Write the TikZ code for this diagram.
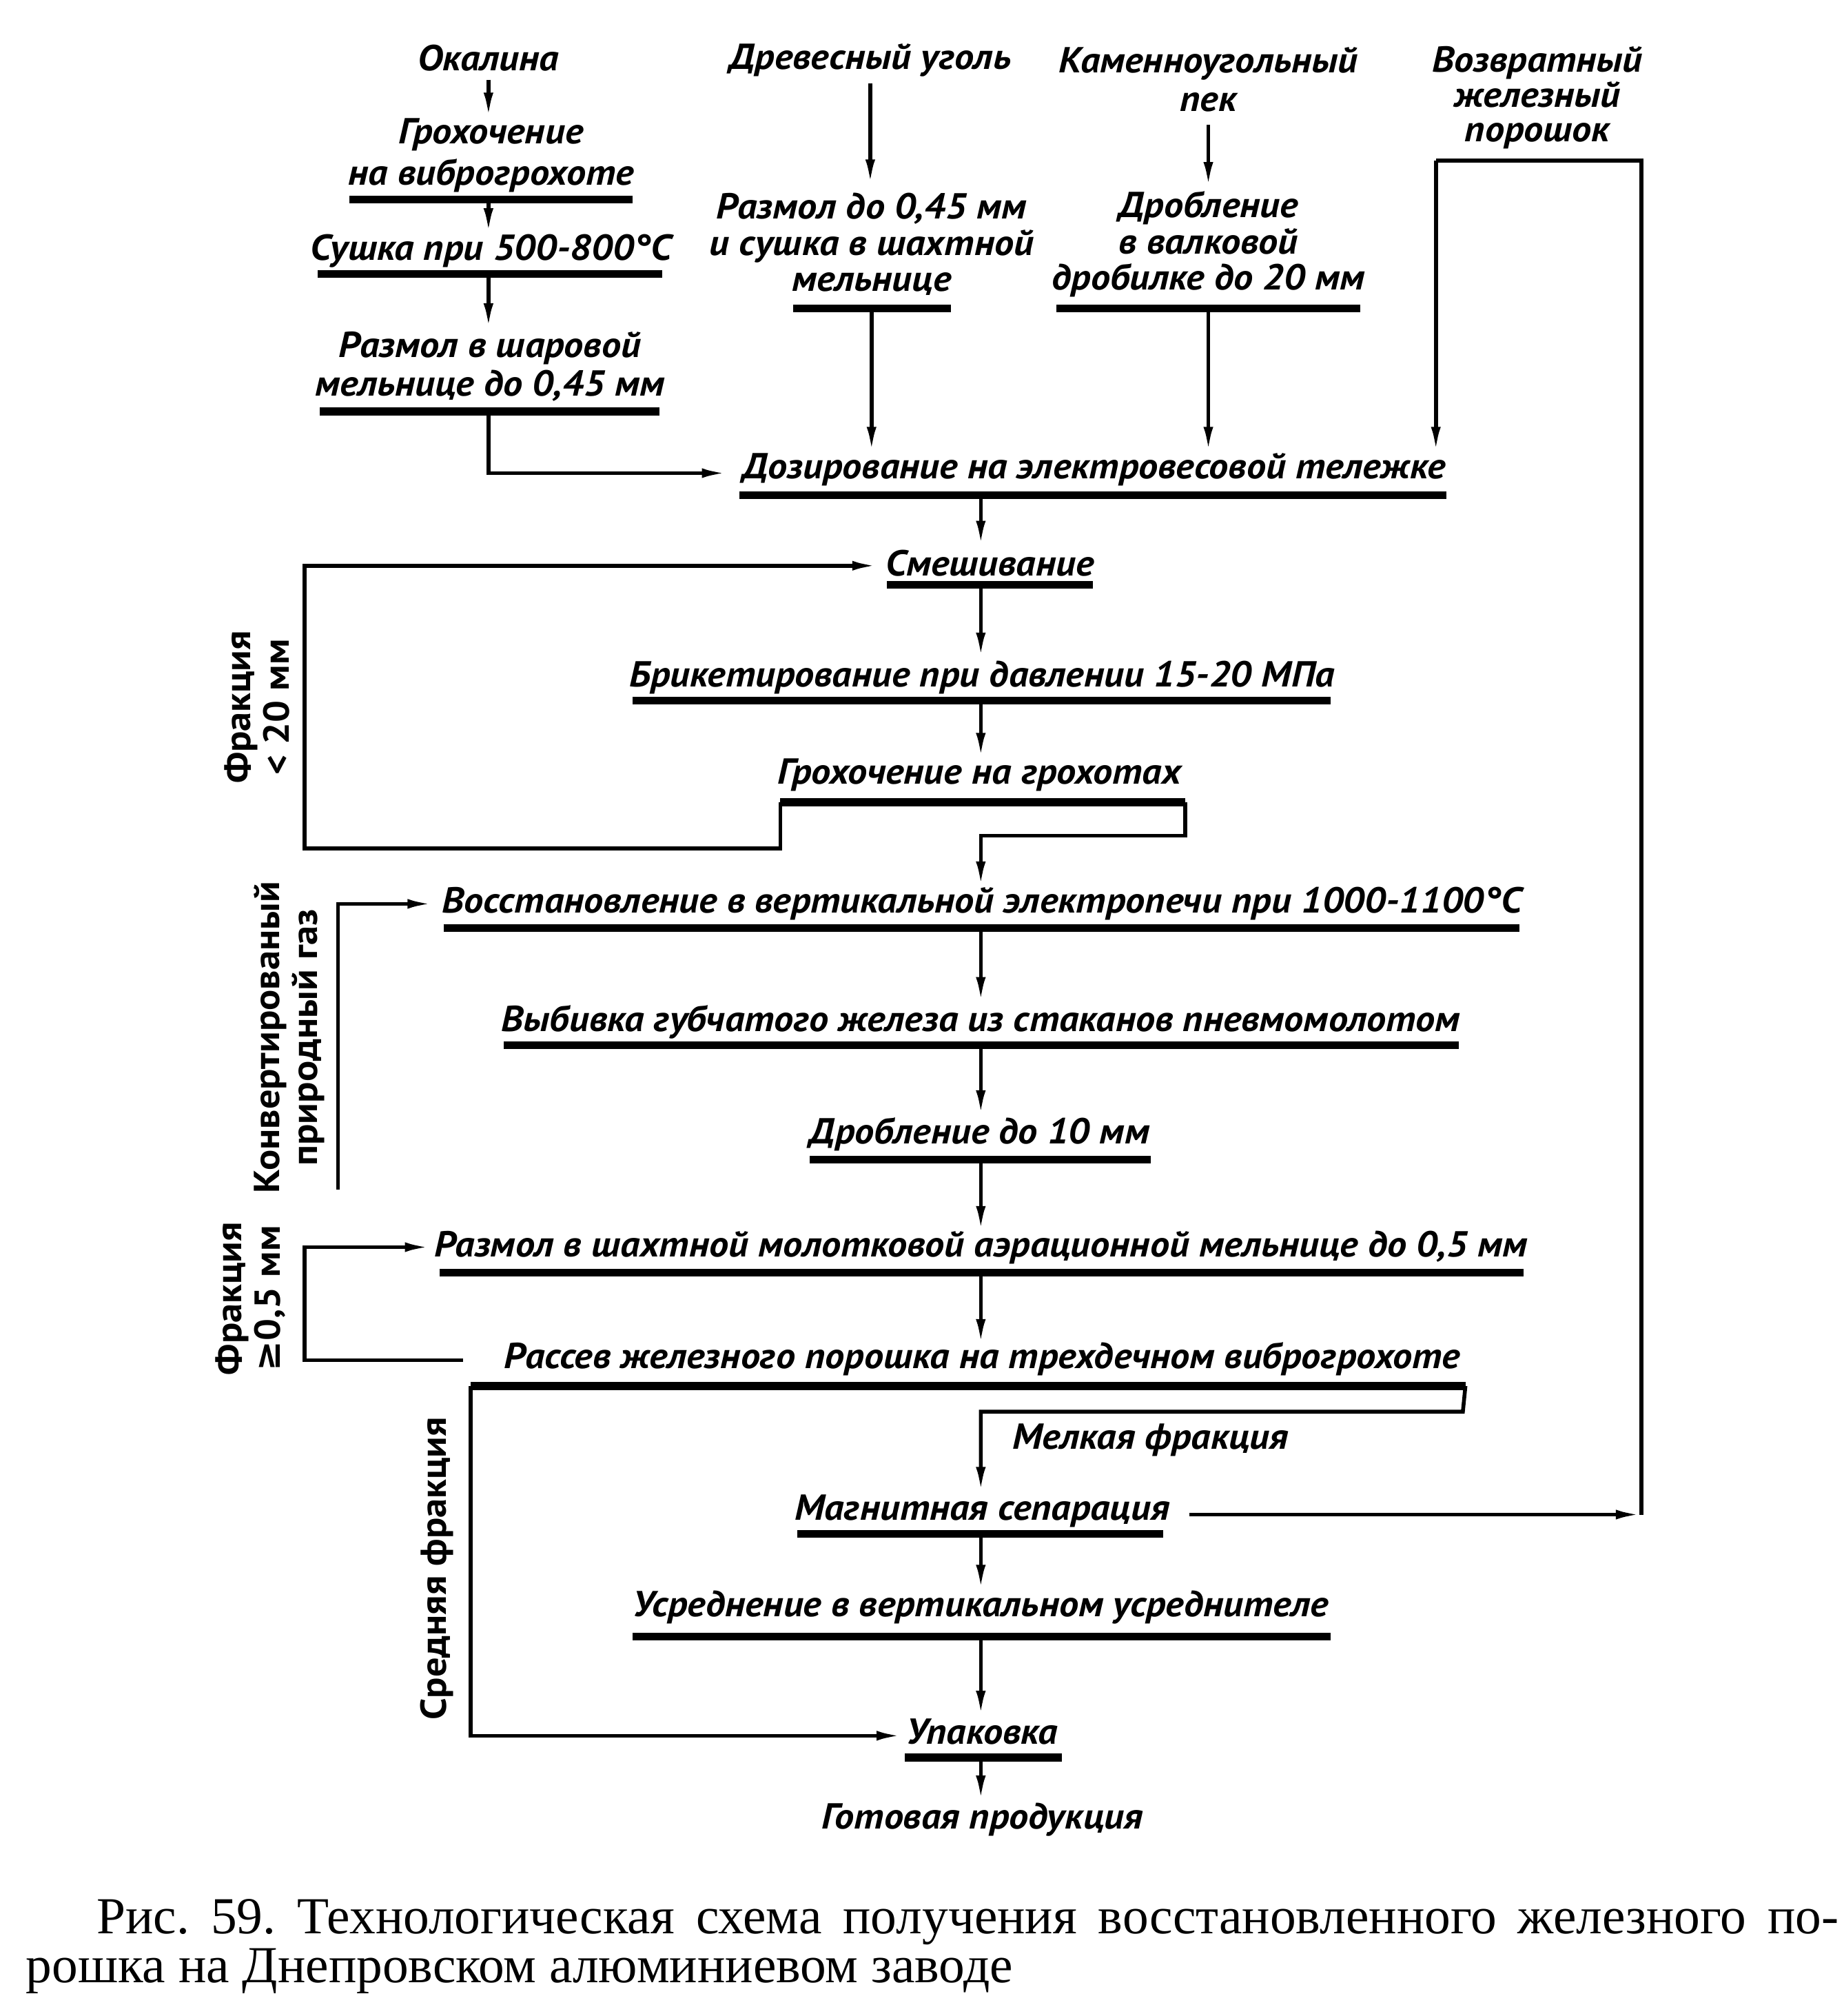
\documentclass[tikz,border=0pt]{standalone}
\usepackage{fontspec}
\setmainfont{PT Sans}
\newfontfamily\gost{PT Sans}[FakeStretch=1.075]
\newfontfamily\capfont{Liberation Serif}
\newfontfamily\djv{DejaVu Sans}
\usetikzlibrary{arrows.meta}
\begin{document}
\begin{tikzpicture}[x=0.2mm,y=-0.2mm,
  lbl/.style={font=\gost\bfseries\itshape\fontsize{16}{16}\selectfont, align=center, inner sep=0pt},
  vlbl/.style={font=\gost\bfseries\fontsize{16}{17}\selectfont, align=center, inner sep=0pt, rotate=90},
  conn/.style={line width=0.6mm, line join=miter},
  arr/.style={conn, -{Latex[length=4mm,width=1.5mm]}},
  ubar/.style={line width=1.2mm},
]
\useasboundingbox (0,0) rectangle (1434,1568);

% ---- top inputs ----
\node[lbl] (okal) at (380,45) {Окалина};
\node[lbl, font=\gost\bfseries\itshape\fontsize{16}{18.2}\selectfont] (groh1) at (382,121) {Грохочение\\на виброгрохоте};
\node[lbl] (sush) at (382,195) {Сушка при 500-800°C};
\node[lbl, font=\gost\bfseries\itshape\fontsize{16}{17}\selectfont] (razm1) at (381,285) {Размол в шаровой\\мельнице до 0,45 мм};
\node[lbl] (drev) at (677,47) {Древесный уголь};
\node[lbl] (razm2) at (678,190) {Размол до 0,45 мм\\и сушка в шахтной\\мельнице};
\node[lbl, font=\gost\bfseries\itshape\fontsize{16}{17}\selectfont] (kam) at (940,62) {Каменноугольный\\пек};
\node[lbl] (drob1) at (940,190) {Дробление\\в валковой\\дробилке до 20 мм};
\node[lbl, font=\gost\bfseries\itshape\fontsize{16}{15.3}\selectfont] (vozv) at (1196,76) {Возвратный\\железный\\порошок};

% ---- main line ----
\node[lbl] (doz) at (851,365) {Дозирование на электровесовой тележке};
\node[lbl] (smesh) at (770,438) {Смешивание};
\node[lbl] (brik) at (764,527) {Брикетирование при давлении 15-20 МПа};
\node[lbl] (groh2) at (762,603) {Грохочение на грохотах};
\node[lbl] (vosst) at (764,703) {Восстановление в вертикальной электропечи при 1000-1100°C};
\node[lbl] (vybiv) at (763,795) {Выбивка губчатого железа из стаканов пневмомолотом};
\node[lbl] (drob2) at (762,882) {Дробление до 10 мм};
\node[lbl] (razm3) at (763,970) {Размол в шахтной молотковой аэрационной мельнице до 0,5 мм};
\node[lbl] (rass) at (764,1057) {Рассев железного порошка на трехдечном виброгрохоте};
\node[lbl] (melk) at (895,1120) {Мелкая фракция};
\node[lbl] (magn) at (764,1175) {Магнитная сепарация};
\node[lbl] (usred) at (763,1250) {Усреднение в вертикальном усреднителе};
\node[lbl] (upak) at (764,1347) {Упаковка};
\node[lbl] (got) at (764,1415) {Готовая продукция};

% ---- side labels ----
\node[vlbl] (fr20) at (200,550) {Фракция\\< 20 мм};
\node[vlbl] (konv) at (225,807) {Конвертированый\\природный газ};
\node[vlbl] (fr05) at (195,1010) {Фракция\\{\djv ≥}0,5 мм};
\node[vlbl] (sred) at (340,1220) {Средняя фракция};

% ---- bars (underlines) ----
\foreach \n/\a/\b/\y in {g1/272/492/155, su/247/515/213, r1/249/513/320, r2/617/740/240,
  d1/822/1058/240, dz/575/1125/385, sm/690/850/455, br/492/1035/545, g2/607/922/624,
  vo/345/1182/722, vy/392/1135/813, d2/630/895/902, r3/342/1185/990, ra/366/1140/1078,
  ma/620/905/1193, us/492/1035/1273, up/704/826/1367}{
  \coordinate (\n L) at (\a,\y);
  \coordinate (\n R) at (\b,\y);
  \draw[ubar] (\n L) -- (\n R);
}

% ---- connector coordinates ----
\coordinate (okalB) at (380,62);
\coordinate (groh1T) at (380,92);
\coordinate (g1M) at (380,155);
\coordinate (sushT) at (380,182);
\coordinate (suM) at (380,213);
\coordinate (razm1T) at (380,256);
\coordinate (r1M) at (380,320);
\coordinate (dozW) at (566,368);
\coordinate (drevB) at (677,65);
\coordinate (razm2T) at (677,144);
\coordinate (r2M) at (678,240);
\coordinate (dozT1) at (678,352);
\coordinate (kamB) at (940,97);
\coordinate (drob1T) at (940,146);
\coordinate (d1M) at (940,240);
\coordinate (dozT2) at (940,352);
\coordinate (vzTL) at (1117,125);
\coordinate (vzTR) at (1277,125);
\coordinate (dozT3) at (1117,352);
\coordinate (dzM) at (763,385);
\coordinate (smeshT) at (763,425);
\coordinate (smM) at (763,455);
\coordinate (brikT) at (763,512);
\coordinate (brM) at (763,545);
\coordinate (groh2T) at (763,590);
\coordinate (g2a) at (607,660);
\coordinate (fr20a) at (237,660);
\coordinate (fr20b) at (237,440);
\coordinate (smeshW) at (683,440);
\coordinate (g2b) at (922,650);
\coordinate (g2c) at (763,650);
\coordinate (vosstT) at (763,690);
\coordinate (konvA) at (263,925);
\coordinate (konvB) at (263,703);
\coordinate (vosstW) at (337,703);
\coordinate (voM) at (763,722);
\coordinate (vybivT) at (763,780);
\coordinate (vyM) at (763,813);
\coordinate (drob2T) at (763,868);
\coordinate (d2M) at (763,902);
\coordinate (razm3T) at (763,958);
\coordinate (r3M) at (763,990);
\coordinate (rassT) at (763,1046);
\coordinate (rassW) at (360,1058);
\coordinate (fr05a) at (237,1058);
\coordinate (fr05b) at (237,970);
\coordinate (razm3W) at (335,970);
\coordinate (sredA) at (366,1350);
\coordinate (upakW) at (702,1350);
\coordinate (raA) at (1138,1098);
\coordinate (raB) at (763,1098);
\coordinate (magnT) at (763,1161);
\coordinate (magnE) at (925,1178);
\coordinate (vzBR) at (1277,1178);
\coordinate (maM) at (763,1193);
\coordinate (usredT) at (763,1237);
\coordinate (usM) at (763,1273);
\coordinate (upakT) at (763,1335);
\coordinate (upM) at (763,1367);
\coordinate (gotT) at (763,1401);

% ---- connectors ----
\draw[arr] (okalB) -- (groh1T);
\draw[arr] (g1M) -- (sushT);
\draw[arr] (suM) -- (razm1T);
\draw[arr] (r1M) |- (dozW);
\draw[arr] (drevB) -- (razm2T);
\draw[arr] (r2M) -- (dozT1);
\draw[arr] (kamB) -- (drob1T);
\draw[arr] (d1M) -- (dozT2);
\draw[arr] (magnE) -- (vzBR);
\draw[conn] (vzBR) -- (vzTR) -- (vzTL);
\draw[arr] (vzTL) -- (dozT3);
\draw[arr] (dzM) -- (smeshT);
\draw[arr] (smM) -- (brikT);
\draw[arr] (brM) -- (groh2T);
\draw[arr] (g2L) -- (g2a) -- (fr20a) -- (fr20b) -- (smeshW);
\draw[arr] (g2R) -- (g2b) -- (g2c) -- (vosstT);
\draw[arr] (konvA) -- (konvB) -- (vosstW);
\draw[arr] (voM) -- (vybivT);
\draw[arr] (vyM) -- (drob2T);
\draw[arr] (d2M) -- (razm3T);
\draw[arr] (r3M) -- (rassT);
\draw[arr] (rassW) -- (fr05a) -- (fr05b) -- (razm3W);
\draw[arr] (raL) -- (sredA) -- (upakW);
\draw[arr] (raR) -- (raA) -- (raB) -- (magnT);
\draw[arr] (maM) -- (usredT);
\draw[arr] (usM) -- (upakT);
\draw[arr] (upM) -- (gotT);

% ---- caption ----
\node[anchor=west, inner sep=0pt, font=\capfont\fontsize{23}{26}\selectfont] (cap1) at (75,1495)
  {\frenchspacing\makebox[271mm][s]{Рис. 59. Технологическая схема получения восстановленного железного по-}};
\node[anchor=west, inner sep=0pt, font=\capfont\fontsize{23}{26}\selectfont] (cap2) at (20,1533)
  {\frenchspacing рошка на Днепровском алюминиевом заводе};
\end{tikzpicture}
\end{document}
